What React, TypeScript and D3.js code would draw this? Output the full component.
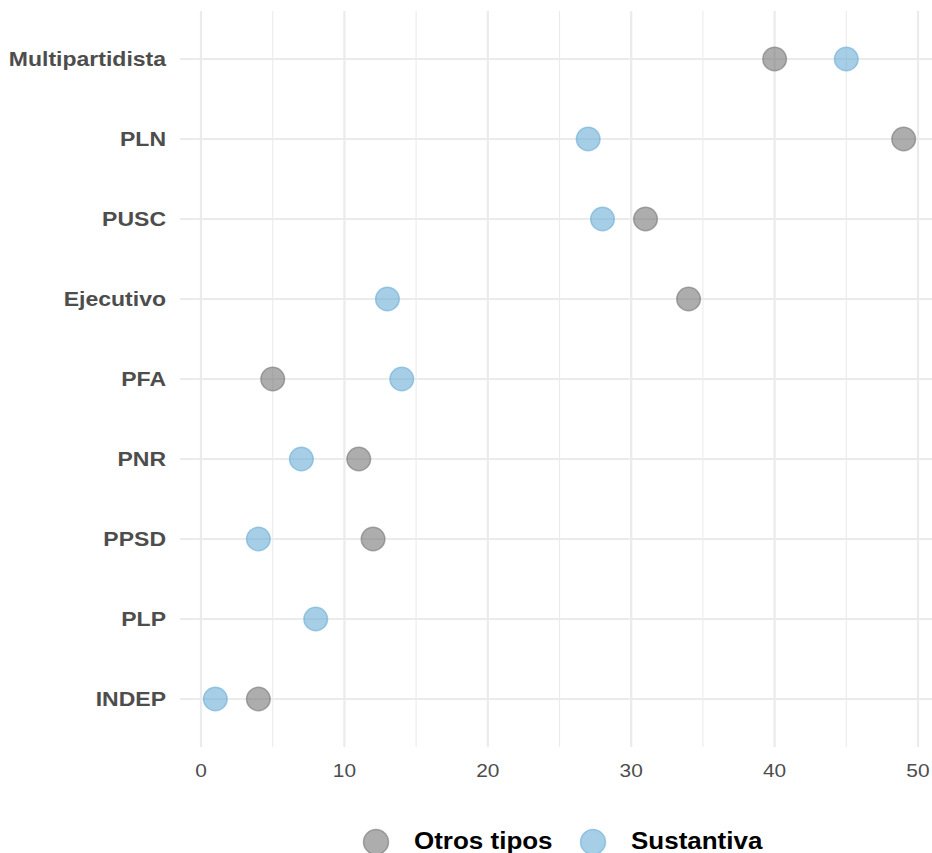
import React from "react";
import * as d3 from "d3";

const categories = ["Multipartidista", "PLN", "PUSC", "Ejecutivo", "PFA", "PNR", "PPSD", "PLP", "INDEP"];
const otrosTipos: (number | null)[] = [40, 49, 31, 34, 5, 11, 12, null, 4];
const sustantiva: (number | null)[] = [45, 27, 28, 13, 14, 7, 4, 8, 1];
const xTicks = [0, 10, 20, 30, 40, 50];
const xMinor = [5, 15, 25, 35, 45];
const seriesNames = ["Otros tipos", "Sustantiva"];
const seriesColors = ["#777777", "#6baed6"];

export default function App() {
  const W = 932, H = 853;
  const x = d3.scaleLinear().domain([0, 50]).range([201, 918]);
  const y = d3.scalePoint().domain(categories).range([59, 699]);
  const panelL = 180, panelR = 940, panelT = 11, panelB = 747;
  const font = "'Liberation Sans', Arial, sans-serif";
  const series = [otrosTipos, sustantiva];
  const legendX = [376, 593];
  return (
    <svg width={W} height={H} style={{ position: "absolute", left: 0, top: 0, background: "#fff" }}>
      {xMinor.map((t) => (
        <line key={"mn" + t} x1={x(t)} x2={x(t)} y1={panelT} y2={panelB} stroke="#ebebeb" strokeWidth={1.1} />
      ))}
      {xTicks.map((t) => (
        <line key={"mj" + t} x1={x(t)} x2={x(t)} y1={panelT} y2={panelB} stroke="#ebebeb" strokeWidth={2.2} />
      ))}
      {categories.map((c) => (
        <line key={"h" + c} x1={panelL} x2={panelR} y1={y(c)} y2={y(c)} stroke="#ebebeb" strokeWidth={2.2} />
      ))}
      {categories.map((c) => (
        <text key={"yl" + c} transform={`translate(166,${y(c)}) scale(1.18,1)`} dy="0.36em" textAnchor="end" fontFamily={font} fontWeight="bold" fontSize={19.5} fill="#4d4d4d">
          {c}
        </text>
      ))}
      {xTicks.map((t) => (
        <text key={"xl" + t} transform={`translate(${x(t)},770) scale(1.1,1)`} dy="0.36em" textAnchor="middle" fontFamily={font} fontSize={19} fill="#4d4d4d">
          {t}
        </text>
      ))}
      {series.map((s, si) =>
        s.map((v, i) =>
          v == null ? null : (
            <circle
              key={si + "-" + i}
              cx={x(v)}
              cy={y(categories[i])}
              r={11.8}
              fill={seriesColors[si]}
              fillOpacity={0.6}
              stroke={seriesColors[si]}
              strokeOpacity={0.6}
              strokeWidth={1.5}
            />
          )
        )
      )}
      <g>
        {seriesNames.map((n, i) => {
          const lx = legendX[i];
          return (
            <g key={n}>
              <circle cx={lx} cy={842} r={12.5} fill={seriesColors[i]} fillOpacity={0.6} stroke={seriesColors[i]} strokeOpacity={0.6} strokeWidth={1.5} />
              <text transform={`translate(${lx + 38},841) scale(1.13,1)`} dy="0.36em" fontFamily={font} fontWeight="bold" fontSize={23} fill="#000">
                {n}
              </text>
            </g>
          );
        })}
      </g>
    </svg>
  );
}
